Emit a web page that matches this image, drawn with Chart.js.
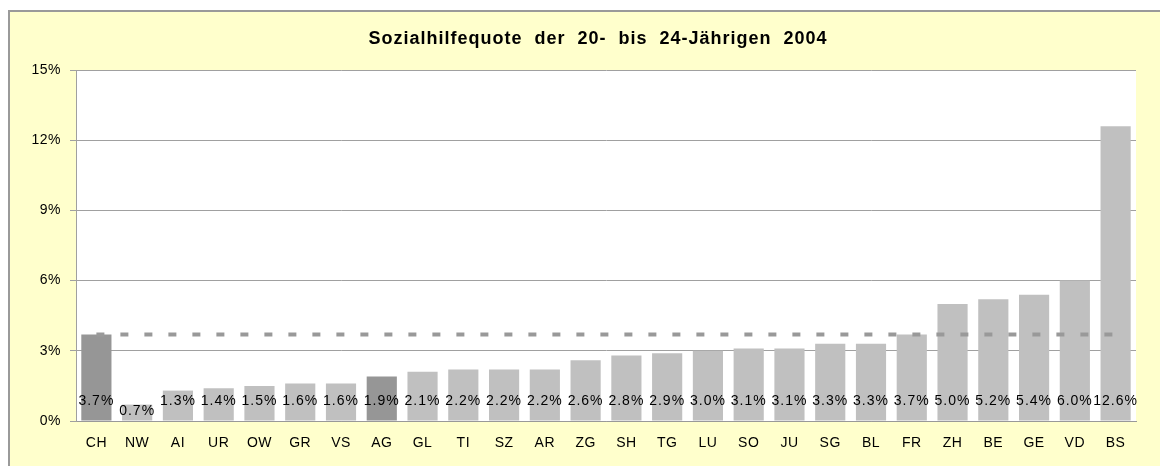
<!DOCTYPE html>
<html>
<head>
<meta charset="utf-8">
<script src="https://cdn.jsdelivr.net/npm/chart.js@4/dist/chart.umd.min.js"></script>
<style>
  html, body { margin: 0; padding: 0; background: #fff; }
  #wrap { width: 1160px; height: 466px; position: relative; }
</style>
</head>
<body>
<div id="wrap"><canvas id="chart" width="1160" height="466"></canvas></div>
<script>
// Data
const cantons = ['CH','NW','AI','UR','OW','GR','VS','AG','GL','TI','SZ','AR','ZG','SH','TG','LU','SO','JU','SG','BL','FR','ZH','BE','GE','VD','BS'];
const quote   = [3.7, 0.7, 1.3, 1.4, 1.5, 1.6, 1.6, 1.9, 2.1, 2.2, 2.2, 2.2, 2.6, 2.8, 2.9, 3.0, 3.1, 3.1, 3.3, 3.3, 3.7, 5.0, 5.2, 5.4, 6.0, 12.6];
const chValue = 3.7;
const highlighted = ['CH', 'AG'];
const yTicks = [0, 3, 6, 9, 12, 15];
const title = 'Sozialhilfequote der 20- bis 24-Jährigen 2004';

const barColors = cantons.map(c => highlighted.includes(c) ? '#969696' : '#c0c0c0');
const FONT = 'Arial, "Liberation Sans", sans-serif';

// Frame, plot background and title
const framePlugin = {
  id: 'frame',
  beforeDraw(chart) {
    const { ctx, chartArea: a } = chart;
    ctx.save();
    ctx.fillStyle = '#fff';
    ctx.fillRect(0, 0, chart.width, chart.height);
    ctx.fillStyle = '#ffffcc';
    ctx.fillRect(9, 11, chart.width, chart.height);
    ctx.strokeStyle = '#9a9a9a';
    ctx.lineWidth = 2;
    ctx.beginPath();
    ctx.moveTo(9, chart.height);
    ctx.lineTo(9, 11);
    ctx.lineTo(chart.width, 11);
    ctx.stroke();
    ctx.fillStyle = '#fff';
    ctx.fillRect(a.left, a.top, a.right - a.left, a.bottom - a.top);
    ctx.fillStyle = '#000';
    ctx.font = 'bold 18px ' + FONT;
    ctx.letterSpacing = '1px';
    ctx.wordSpacing = '6px';
    ctx.textAlign = 'center';
    ctx.textBaseline = 'middle';
    ctx.fillText(title, 598, 39);
    ctx.restore();
    ctx.letterSpacing = '0.5px';
  }
};

// Value labels near bar base
const labelPlugin = {
  id: 'labels',
  afterDatasetsDraw(chart) {
    const { ctx } = chart;
    const meta = chart.getDatasetMeta(1);
    ctx.save();
    ctx.font = '14px ' + FONT;
    ctx.letterSpacing = '1px';
    ctx.fillStyle = '#000';
    ctx.textAlign = 'center';
    ctx.textBaseline = 'middle';
    meta.data.forEach((bar, i) => {
      const y = Math.max(bar.base - 19, bar.y + 7);
      ctx.fillText(quote[i].toFixed(1) + '%', bar.x, y);
    });
    ctx.restore();
  }
};

new Chart(document.getElementById('chart'), {
  data: {
    labels: cantons,
    datasets: [
      {
        type: 'line',
        data: cantons.map(() => chValue),
        borderColor: '#999999',
        borderWidth: 4,
        borderDash: [8, 16],
        borderCapStyle: 'butt',
        pointRadius: 0,
        fill: false,
        order: 0,
      },
      {
        type: 'bar',
        data: quote,
        backgroundColor: barColors,
        borderWidth: 0,
        barPercentage: 0.74,
        categoryPercentage: 1,
        order: 1,
      }
    ]
  },
  options: {
    responsive: false,
    animation: false,
    layout: { padding: { left: 0, top: 70, right: 24, bottom: 0 } },
    plugins: { legend: { display: false }, tooltip: { enabled: false } },
    scales: {
      x: {
        grid: { display: false, drawTicks: false },
        border: { display: true, color: '#999999', width: 1 },
        ticks: { color: '#000', font: { family: FONT, size: 14 }, padding: 14, maxRotation: 0, autoSkip: false },
        afterFit(scale) { scale.height = 45; },
      },
      y: {
        min: 0,
        max: 15,
        afterBuildTicks(scale) { scale.ticks = yTicks.map(v => ({ value: v })); },
        grid: { color: '#a0a0a0', lineWidth: 1, tickLength: 6 },
        border: { display: true, color: '#a0a0a0', width: 1 },
        ticks: { color: '#000', font: { family: FONT, size: 14 }, padding: 9, callback: v => v + '%' },
        afterFit(scale) { scale.width = 76; },
      }
    }
  },
  plugins: [framePlugin, labelPlugin]
});
</script>
</body>
</html>
